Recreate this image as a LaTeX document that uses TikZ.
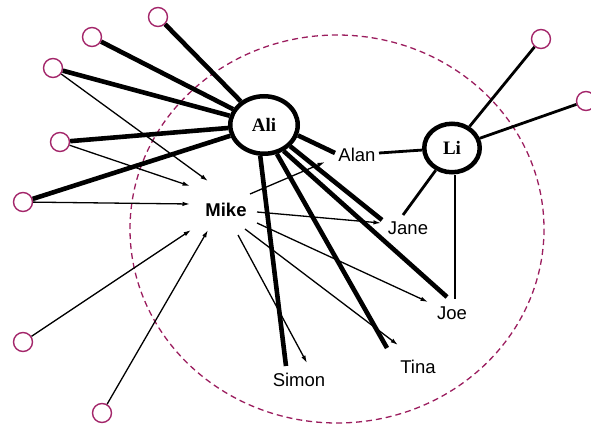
\documentclass[tikz,border=0pt]{standalone}
\usepackage{fontspec}
\setmainfont{Liberation Sans}
\newfontfamily\serifb{Liberation Serif}
\usetikzlibrary{arrows.meta,calc,shapes.geometric}
\definecolor{mag}{HTML}{A3266A}
\definecolor{dmag}{HTML}{9B1D5E}
\begin{document}
\begin{tikzpicture}[x=1pt,y=-1pt,
  outer/.style={circle,draw=mag,line width=1.4pt,minimum size=19pt,inner sep=0pt},
  hub/.style={ellipse,draw,line width=4.5pt,fill=white,inner sep=0pt,font=\serifb\bfseries\fontsize{19}{19}\selectfont},
  lbl/.style={font=\fontsize{18.5}{18.5}\selectfont,inner sep=0pt},
  strong/.style={line width=4.6pt},
  mid/.style={line width=2.8pt},
  weak/.style={line width=1.3pt,-{Latex[length=7.5pt,width=4.5pt]}},
]
\useasboundingbox (0,0) rectangle (591,423);
% dashed boundary
\draw[dmag,line width=1.3pt,dash pattern=on 6pt off 4pt] (337,229) ellipse [x radius=207, y radius=194];

% hubs
\node[hub,minimum width=67.5pt,minimum height=57.5pt] (Ali) at (264,125) {Ali};
\node[hub,minimum width=55.5pt,minimum height=48.5pt] (Li) at (452,148) {Li};

% labels
\node[lbl] (Alan) at (357,155) {Alan};
\node[lbl,font=\bfseries\fontsize{18.5}{18.5}\selectfont] (Mike) at (226,210) {Mike};
\node[lbl] (Jane) at (408,228) {Jane};
\node[lbl] (Joe) at (452,313) {Joe};
\node[lbl] (Tina) at (418,367) {Tina};
\node[lbl] (Simon) at (299,380) {Simon};

% outer circles
\node[outer] (o1) at (158,17) {};
\node[outer] (o2) at (92,37) {};
\node[outer] (o3) at (53,68) {};
\node[outer] (o4) at (60,142) {};
\node[outer] (o5) at (23,202) {};
\node[outer] (o6) at (23,342) {};
\node[outer] (o7) at (102,413) {};
\node[outer] (o8) at (541,39) {};
\node[outer] (o9) at (586,101) {};

% strong ties to Ali
\draw[strong] (o1) -- (Ali);
\draw[strong] (o2) -- (Ali);
\draw[strong] (o3) -- (Ali);
\draw[strong] (o4) -- (Ali);
\draw[strong] (o5) -- (Ali);
\draw[strong] (Ali.-17) -- ($(Alan)+(-22,-2)$);
\draw[strong] (Ali.-39) -- ($(Jane)+(-26,-8)$);
\draw[strong] (Ali.-53) -- ($(Joe)+(-5,-16)$);
\draw[strong] (Ali.-66) -- ($(Tina)+(-31,-19)$);
\draw[strong] (Ali.-97) -- ($(Simon)+(-13,-14)$);

% ties to Li
\draw[mid] (Li) -- (o8);
\draw[mid] (Li) -- (o9);
\draw[mid] ($(Alan)+(22,-2)$) -- (Li);
\draw[mid] (Li) -- ($(Jane)+(-5,-13)$);
\draw[mid] ([xshift=3pt]Li.south) -- ($(Joe)+(3,-14)$);

% weak ties into Mike
\draw[weak] (o3) -- ($(Mike)+(-18,-29)$);
\draw[weak] (o4) -- ($(Mike)+(-36,-24)$);
\draw[weak] (o5) -- ($(Mike)+(-36,-6)$);
\draw[weak] (o6) -- ($(Mike)+(-35,20)$);
\draw[weak] (o7) -- ($(Mike)+(-18,20)$);

% weak ties out of Mike
\draw[weak] ($(Mike)+(24,-16)$) -- ($(Alan)+(-32,7)$);
\draw[weak] ($(Mike)+(31,2)$) -- ($(Jane)+(-27,-5)$);
\draw[weak] ($(Mike)+(31,13)$) -- ($(Joe)+(-24,-11)$);
\draw[weak] ($(Mike)+(19,19)$) -- ($(Tina)+(-20,-22)$);
\draw[weak] ($(Mike)+(12,25)$) -- ($(Simon)+(8,-17)$);
\end{tikzpicture}
\end{document}
